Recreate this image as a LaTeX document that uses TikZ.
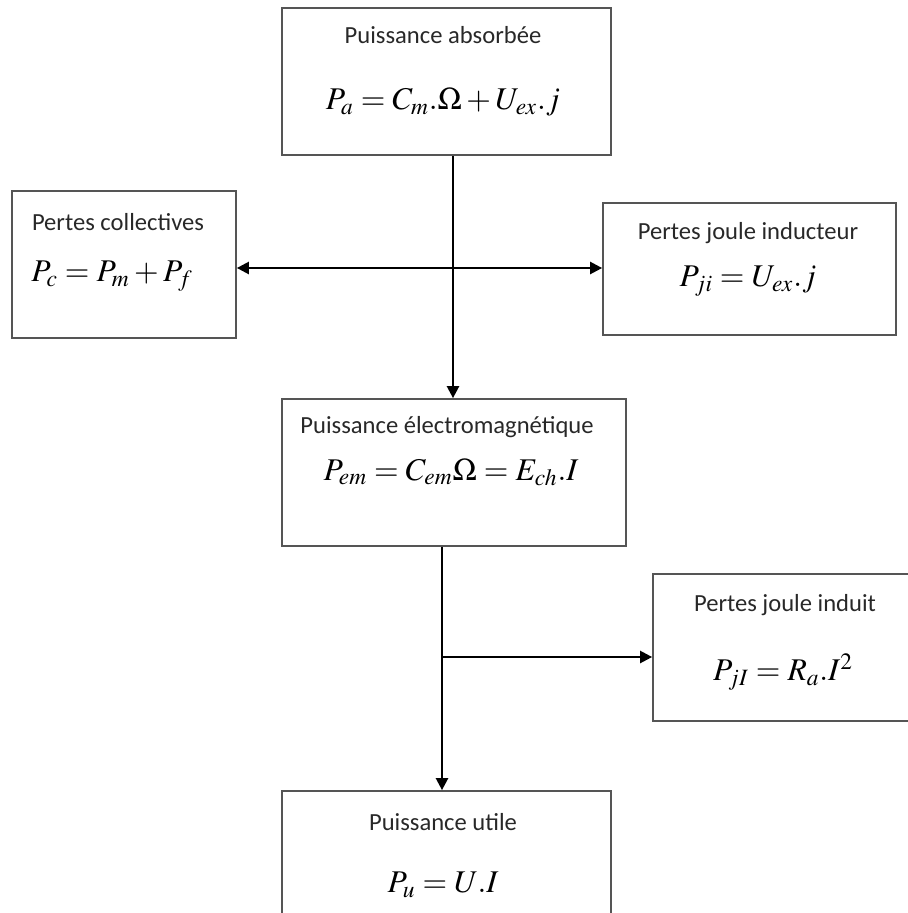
\documentclass[tikz,border=0pt]{standalone}
\usepackage{mathptmx}
\usepackage[no-math]{fontspec}
\setmainfont{Carlito}
\usetikzlibrary{arrows.meta, positioning, calc}
\definecolor{boxgray}{RGB}{85, 85, 85}
\definecolor{txtgray}{RGB}{40, 40, 40}

\tikzset{
  bloc/.style={draw=boxgray, line width=1.1pt, inner sep=0pt},
  titre/.style={text=txtgray, font=\fontsize{14}{16}\selectfont, inner sep=0pt},
  formule/.style={text=black, font=\fontsize{18}{20}\selectfont, inner sep=0pt},
  fleche/.style={line width=0.9pt, -{Triangle[length=6.8pt, width=7pt]}},
}

\begin{document}
\begin{tikzpicture}[x=0.02cm, y=-0.02cm]
  \useasboundingbox (0,0) rectangle (908,913);

  % blocs
  \node[bloc, minimum width=6.58cm, minimum height=2.94cm] (pa) at (446.5, 81.5) {};
  \node[bloc, minimum width=4.48cm, minimum height=2.94cm] (pc) at (124, 264.5) {};
  \node[bloc, minimum width=5.86cm, minimum height=2.64cm] (pji) at (749.5, 269) {};
  \node[bloc, minimum width=6.88cm, minimum height=2.94cm] (pem) at (454, 472.5) {};
  \node[bloc, minimum width=5.18cm, minimum height=2.94cm] (pjI) at (782.5, 647.5) {};
  \node[bloc, minimum width=6.58cm, minimum height=2.88cm] (pu) at (446.5, 863) {};

  % titres et formules
  \node[titre] (pa-t) at (443, 35) {Puissance absorbée};
  \node[formule] (pa-f) at (443, 102) {$P_a = C_m.\Omega + U_{ex}.j$};

  \node[titre] (pc-t) at (118, 222) {Pertes collectives};
  \node[formule] (pc-f) at (112, 276) {$P_c = P_m + P_f$};

  \node[titre] (pji-t) at (748, 233) {Pertes joule inducteur};
  \node[formule] (pji-f) at (748, 281) {$P_{ji} = U_{ex}.j$};

  \node[titre] (pem-t) at (447, 427) {Puissance électromagnétique};
  \node[formule] (pem-f) at (451, 472) {$P_{em} = C_{em}\Omega = E_{ch}.I$};

  \node[titre] (pjI-t) at (785, 605) {Pertes joule induit};
  \node[formule] (pjI-f) at (783, 672) {$P_{jI} = R_a.I^2$};

  \node[titre] (pu-t) at (443, 822) {Puissance utile};
  \node[formule] (pu-f) at (443, 885) {$P_u = U.I$};

  % liaisons
  \coordinate (n1) at (453, 268);
  \coordinate (n2) at (442, 657);
  \draw[fleche] (pa.south -| n1) -- (pem.north -| n1);
  \draw[fleche, {Triangle[length=6.8pt, width=7pt]}-{Triangle[length=6.8pt, width=7pt]}] (pc.east |- n1) -- (pji.west |- n1);
  \draw[fleche] (pem.south -| n2) -- (pu.north -| n2);
  \draw[fleche] (n2) -- (pjI.west |- n2);
\end{tikzpicture}
\end{document}
